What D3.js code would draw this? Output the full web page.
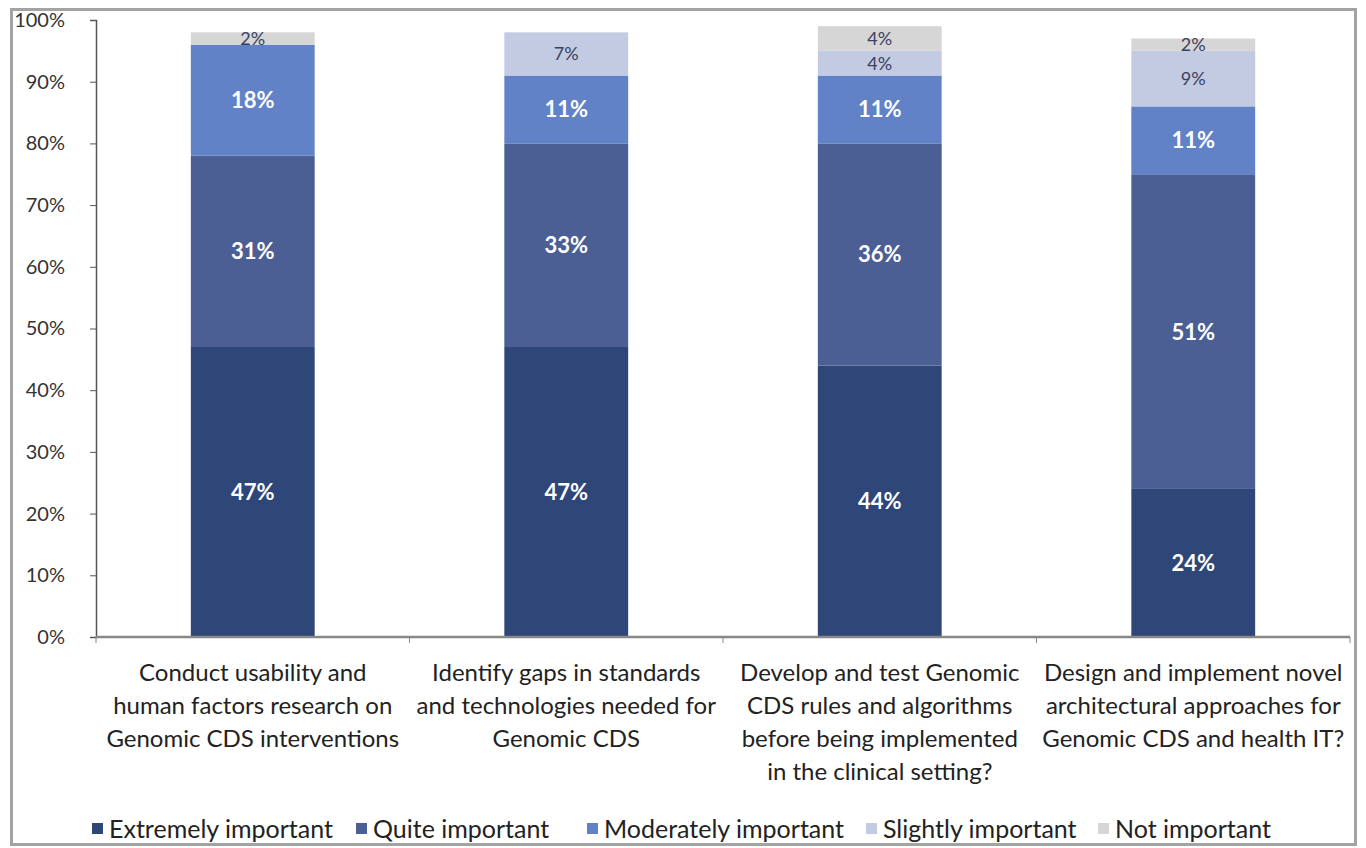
<!DOCTYPE html>
<html>
<head>
<meta charset="utf-8">
<script src="https://cdn.jsdelivr.net/npm/d3@7"></script>
<style>
body { margin: 0; background: #fff; }
svg text { font-family: Lato, "Open Sans", sans-serif; }
</style>
</head>
<body>
<script>
var w = 1366;
var h = 848;

var categories = [
    ["Conduct usability and", "human factors research on", "Genomic CDS interventions"],
    ["Identify gaps in standards", "and technologies needed for", "Genomic CDS"],
    ["Develop and test Genomic", "CDS rules and algorithms", "before being implemented", "in the clinical setting?"],
    ["Design and implement novel", "architectural approaches for", "Genomic CDS and health IT?"]
];
var seriesNames = ["Extremely important", "Quite important", "Moderately important", "Slightly important", "Not important"];
var extremely = [47, 47, 44, 24];
var quite = [31, 33, 36, 51];
var moderately = [18, 11, 11, 11];
var slightly = [0, 7, 4, 9];
var notImportant = [2, 0, 4, 2];
var yTicks = [0, 10, 20, 30, 40, 50, 60, 70, 80, 90, 100];

var colors = ["#2e4678", "#4b5f95", "#6282c8", "#c2cbe2", "#d6d6d6"];
var labelColors = ["#fff", "#fff", "#fff", "#39425f", "#39425f"];

var rows = categories.map(function(c, i) {
    return {
        idx: i,
        "Extremely important": extremely[i],
        "Quite important": quite[i],
        "Moderately important": moderately[i],
        "Slightly important": slightly[i],
        "Not important": notImportant[i]
    };
});

var stack = d3.stack().keys(seriesNames)(rows);

var svg = d3.select("body")
    .append("svg")
    .attr("width", w)
    .attr("height", h);

// outer frame
svg.append("rect")
    .attr("x", 11.5).attr("y", 9.5)
    .attr("width", 1344).attr("height", 835)
    .attr("fill", "none")
    .attr("stroke", "#a3a3a3")
    .attr("stroke-width", 3);

var plotL = 96, plotR = 1350, plotT = 20, plotB = 637;

var x = d3.scaleBand()
    .domain(d3.range(categories.length))
    .range([plotL, plotR])
    .paddingInner(0.605)
    .paddingOuter(0.3025);

var y = d3.scaleLinear()
    .domain([0, 100])
    .range([plotB, plotT]);

// bars
var layer = svg.selectAll("g.layer")
    .data(stack)
    .enter().append("g")
    .attr("class", "layer")
    .attr("fill", function(d, i) { return colors[i]; });

layer.selectAll("rect")
    .data(function(d) { return d; })
    .enter().append("rect")
    .attr("x", function(d) { return x(d.data.idx); })
    .attr("y", function(d) { return y(d[1]); })
    .attr("width", x.bandwidth())
    .attr("height", function(d) { return y(d[0]) - y(d[1]); });

// value labels
stack.forEach(function(s, si) {
    svg.append("g").selectAll("text")
        .data(s.filter(function(d) { return d[1] - d[0] > 0; }))
        .enter().append("text")
        .attr("x", function(d) { return x(d.data.idx) + x.bandwidth() / 2; })
        .attr("y", function(d) { return (y(d[0]) + y(d[1])) / 2; })
        .attr("dy", "0.36em")
        .attr("text-anchor", "middle")
        .attr("font-size", si < 3 ? 22 : 18)
        .attr("font-weight", si < 3 ? "bold" : "normal")
        .attr("fill", labelColors[si])
        .text(function(d) { return (d[1] - d[0]) + "%"; });
});

// y axis
var yAxis = d3.axisLeft(y)
    .tickValues(yTicks)
    .tickFormat(function(d) { return d + "%"; })
    .tickSize(6)
    .tickPadding(25);

var gy = svg.append("g")
    .attr("transform", "translate(" + plotL + ",0)")
    .call(yAxis);
gy.select(".domain").attr("stroke", "#555").attr("stroke-width", 1.5);
gy.selectAll(".tick line").attr("stroke", "#555");
gy.selectAll(".tick text")
    .attr("font-size", 20)
    .attr("fill", "#333");

// x axis with dividers between categories
var xLine = svg.append("g");
xLine.append("line")
    .attr("x1", plotL).attr("x2", plotR)
    .attr("y1", plotB).attr("y2", plotB)
    .attr("stroke", "#888").attr("stroke-width", 2.5);
xLine.selectAll("line.div")
    .data(d3.range(categories.length + 1))
    .enter().append("line")
    .attr("class", "div")
    .attr("x1", function(d) { return plotL + d * x.step(); })
    .attr("x2", function(d) { return plotL + d * x.step(); })
    .attr("y1", plotB).attr("y2", plotB + 6)
    .attr("stroke", "#888");

// category labels
var catG = svg.append("g").selectAll("text")
    .data(categories)
    .enter().append("text")
    .attr("text-anchor", "middle")
    .attr("font-size", 24)
    .attr("fill", "#222")
    .attr("transform", function(d, i) {
        return "translate(" + (x(i) + x.bandwidth() / 2) + ",681)";
    });
catG.selectAll("tspan")
    .data(function(d) { return d; })
    .enter().append("tspan")
    .attr("x", 0)
    .attr("y", function(d, i) { return i * 33; })
    .text(function(d) { return d; });

// legend
var legendX = [92, 356, 587, 866, 1098];
var legend = svg.append("g").selectAll("g")
    .data(seriesNames)
    .enter().append("g")
    .attr("transform", function(d, i) { return "translate(" + legendX[i] + ",830)"; });
legend.append("rect")
    .attr("x", 0).attr("y", -7)
    .attr("width", 11).attr("height", 11)
    .attr("fill", function(d, i) { return colors[i]; });
legend.append("text")
    .attr("x", 17)
    .attr("y", 0)
    .attr("dy", "0.32em")
    .attr("font-size", 25)
    .attr("fill", "#222")
    .text(function(d) { return d; });
</script>
</body>
</html>
